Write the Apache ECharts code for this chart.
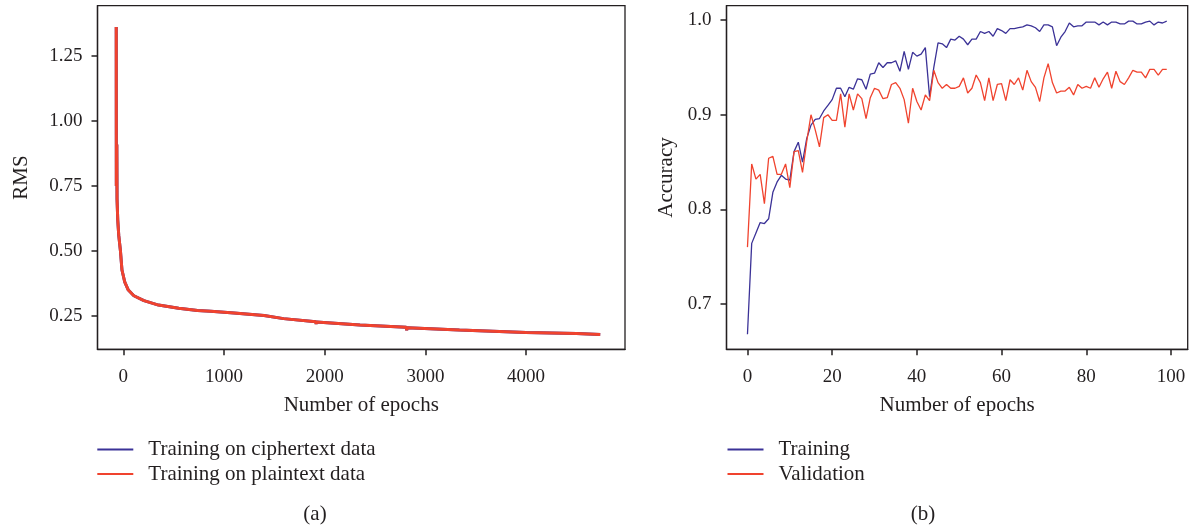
<!DOCTYPE html>
<html>
<head>
<meta charset="utf-8">
<script src="https://cdn.jsdelivr.net/npm/echarts@6/dist/echarts.min.js"></script>
<style>
  html, body { margin: 0; padding: 0; background: #fff; }
  #chart { width: 1193px; height: 529px; }
</style>
</head>
<body>
<div id="chart"></div>
<script>
// (a) RMS vs epochs -- the ciphertext curve sits right under the plaintext one
const rmsEpochs = [-70, -69, -64, -62, -55, -45, -28, -13, 15, 50, 105, 205, 350, 357, 362, 550, 737, 868, 1100, 1398, 1401, 1404, 1591, 1912, 1915, 1918, 2351, 2810, 2814, 2818, 3338, 4000, 4500, 4736];
const cipherRms = [1.362, 0.75, 0.91, 0.70, 0.62, 0.56, 0.50, 0.427, 0.38, 0.35, 0.328, 0.309, 0.292, 0.297, 0.290, 0.280, 0.271, 0.268, 0.262, 0.252, 0.245, 0.251, 0.240, 0.228, 0.219, 0.227, 0.215, 0.207, 0.195, 0.205, 0.196, 0.187, 0.183, 0.179];
const plainRms = [1.362, 0.75, 0.91, 0.70, 0.62, 0.56, 0.50, 0.427, 0.38, 0.35, 0.328, 0.309, 0.292, 0.297, 0.290, 0.280, 0.271, 0.268, 0.262, 0.252, 0.245, 0.251, 0.240, 0.228, 0.219, 0.227, 0.215, 0.207, 0.195, 0.205, 0.196, 0.187, 0.183, 0.179];
const rmsTicks = [0.25, 0.5, 0.75, 1.0, 1.25];
const rmsEpochTicks = [0, 1000, 2000, 3000, 4000];

// (b) accuracy per epoch, 0..99
const accTraining = [
  0.668, 0.764, 0.775, 0.786, 0.785, 0.790, 0.818, 0.829, 0.836, 0.832,
  0.831, 0.861, 0.871, 0.850, 0.875, 0.889, 0.895, 0.896, 0.904, 0.910,
  0.916, 0.928, 0.928, 0.919, 0.929, 0.927, 0.938, 0.937, 0.927, 0.943,
  0.944, 0.955, 0.950, 0.955, 0.955, 0.957, 0.946, 0.967, 0.948, 0.966,
  0.962, 0.964, 0.971, 0.919, 0.950, 0.976, 0.975, 0.971, 0.980, 0.979,
  0.983, 0.980, 0.974, 0.980, 0.980, 0.988, 0.986, 0.988, 0.983, 0.991,
  0.989, 0.986, 0.991, 0.991, 0.992, 0.993, 0.995, 0.994, 0.992, 0.988,
  0.995, 0.995, 0.993, 0.973, 0.982, 0.988, 0.997, 0.993, 0.994, 0.994,
  0.998, 0.998, 0.998, 0.995, 0.998, 0.995, 0.998, 0.998, 0.996, 0.996,
  0.999, 0.999, 0.996, 0.996, 0.998, 0.999, 0.995, 0.998, 0.997, 0.999
];
const accValidation = [
  0.760, 0.848, 0.832, 0.837, 0.806, 0.854, 0.856, 0.837, 0.837, 0.848,
  0.823, 0.861, 0.862, 0.839, 0.872, 0.900, 0.884, 0.866, 0.897, 0.900,
  0.894, 0.894, 0.922, 0.887, 0.922, 0.905, 0.922, 0.917, 0.896, 0.918,
  0.928, 0.926, 0.917, 0.918, 0.932, 0.934, 0.928, 0.916, 0.891, 0.928,
  0.914, 0.905, 0.921, 0.915, 0.947, 0.934, 0.928, 0.932, 0.928, 0.928,
  0.930, 0.939, 0.923, 0.928, 0.942, 0.934, 0.915, 0.939, 0.915, 0.932,
  0.933, 0.915, 0.937, 0.932, 0.939, 0.926, 0.947, 0.935, 0.929, 0.914,
  0.939, 0.954, 0.934, 0.923, 0.925, 0.925, 0.929, 0.921, 0.932, 0.928,
  0.930, 0.928, 0.939, 0.929, 0.938, 0.945, 0.928, 0.946, 0.935, 0.932,
  0.939, 0.947, 0.945, 0.945, 0.939, 0.948, 0.948, 0.942, 0.948, 0.948
];
const accTicks = [0.7, 0.8, 0.9, 1.0];
const accEpochTicks = [0, 20, 40, 60, 80, 100];

const INK = '#231f20';
const BLUE = '#3b3297';
const RED = '#f0432e';
const FONT = '"Liberation Serif", "DejaVu Serif", serif';

const chart = echarts.init(document.getElementById('chart'), null, { renderer: 'canvas' });

function xAxisOf(gridIndex, min, max, ticks) {
  return {
    type: 'value', gridIndex: gridIndex, min: min, max: max,
    splitLine: { show: false },
    axisLine: { show: true, onZero: false, lineStyle: { color: INK, width: 1.3 } },
    axisTick: { show: true, inside: false, length: 6, customValues: ticks, lineStyle: { color: INK, width: 1.5 } },
    axisLabel: {
      customValues: ticks, margin: 18, color: INK, fontFamily: FONT, fontSize: 19,
      formatter: v => String(v)
    },
    name: 'Number of epochs', nameLocation: 'middle', nameGap: 46,
    nameTextStyle: { color: INK, fontFamily: FONT, fontSize: 21 }
  };
}

function yAxisOf(gridIndex, min, max, ticks, digits, name, gap) {
  return {
    type: 'value', gridIndex: gridIndex, min: min, max: max,
    splitLine: { show: false },
    axisLine: { show: true, onZero: false, lineStyle: { color: INK, width: 1.3 } },
    axisTick: { show: true, inside: false, length: 6, customValues: ticks, lineStyle: { color: INK, width: 1.5 } },
    axisLabel: {
      customValues: ticks, margin: 15, color: INK, fontFamily: FONT, fontSize: 19,
      formatter: v => v.toFixed(digits)
    },
    name: name, nameLocation: 'middle', nameGap: gap, nameRotate: 90,
    nameTextStyle: { color: INK, fontFamily: FONT, fontSize: 21 }
  };
}

function legendOf(left, names) {
  return {
    data: names, orient: 'vertical', left: left, top: 439, padding: 0,
    icon: 'rect', itemWidth: 36, itemHeight: 2, itemGap: 3.6,
    textStyle: { color: INK, fontFamily: FONT, fontSize: 21, padding: [0, 0, 0, 10] }
  };
}

const zip = (xs, ys) => xs.map((x, i) => [x, ys[i]]);
const epochIdx = accTraining.map((_, i) => i);

const option = {
  animation: false,
  grid: [
    { left: 97.5, top: 5.7, width: 527.5, height: 343.6, show: true, borderColor: INK, borderWidth: 1.3, outerBoundsMode: 'none' },
    { left: 726.5, top: 5.7, width: 461.2, height: 343.6, show: true, borderColor: INK, borderWidth: 1.3, outerBoundsMode: 'none' }
  ],
  xAxis: [
    xAxisOf(0, -256, 4982, rmsEpochTicks),
    xAxisOf(1, -4.95, 103.95, accEpochTicks)
  ],
  yAxis: [
    yAxisOf(0, 0.122, 1.4435, rmsTicks, 2, 'RMS', 66),
    yAxisOf(1, 0.652, 1.0153, accTicks, 1, 'Accuracy', 50)
  ],
  legend: [
    legendOf(97.3, ['Training on ciphertext data', 'Training on plaintext data']),
    legendOf(727.5, ['Training', 'Validation'])
  ],
  series: [
    {
      name: 'Training on ciphertext data', type: 'line', xAxisIndex: 0, yAxisIndex: 0,
      data: zip(rmsEpochs, cipherRms), symbol: 'none', color: BLUE,
      lineStyle: { color: BLUE, width: 3 }
    },
    {
      name: 'Training on plaintext data', type: 'line', xAxisIndex: 0, yAxisIndex: 0,
      data: zip(rmsEpochs, plainRms), symbol: 'none', color: RED,
      lineStyle: { color: RED, width: 3 }
    },
    {
      name: 'Training', type: 'line', xAxisIndex: 1, yAxisIndex: 1,
      data: zip(epochIdx, accTraining), symbol: 'none', color: BLUE,
      lineStyle: { color: BLUE, width: 1.3 }
    },
    {
      name: 'Validation', type: 'line', xAxisIndex: 1, yAxisIndex: 1,
      data: zip(epochIdx, accValidation), symbol: 'none', color: RED,
      lineStyle: { color: RED, width: 1.3 }
    }
  ],
  graphic: [
    { type: 'text', x: 315, y: 514, style: { text: '(a)', align: 'center', verticalAlign: 'middle', fill: INK, font: '21px ' + FONT } },
    { type: 'text', x: 923, y: 514, style: { text: '(b)', align: 'center', verticalAlign: 'middle', fill: INK, font: '21px ' + FONT } }
  ]
};

chart.setOption(option);
</script>
</body>
</html>
